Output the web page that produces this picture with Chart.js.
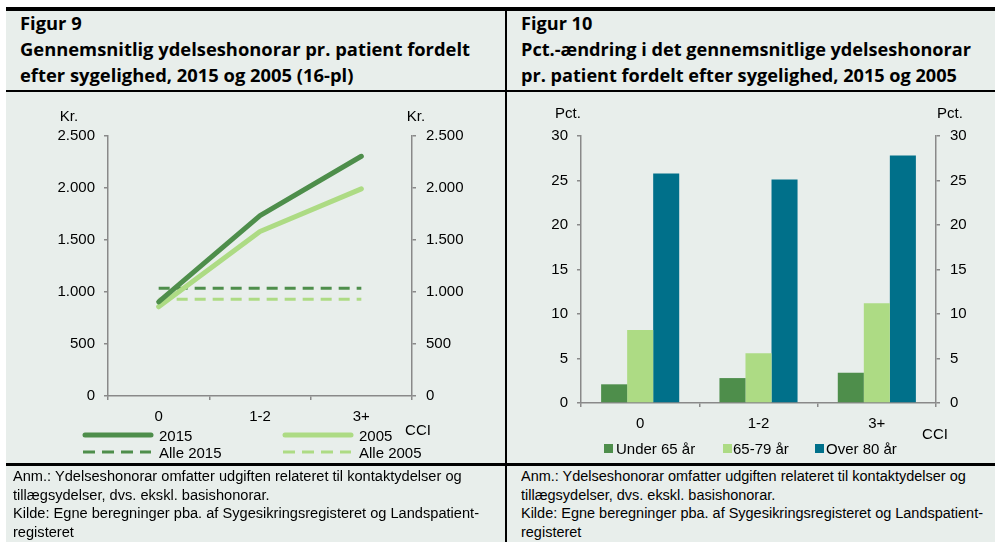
<!DOCTYPE html>
<html>
<head>
<meta charset="utf-8">
<script src="https://cdn.jsdelivr.net/npm/chart.js@4/dist/chart.umd.min.js"></script>
<style>
  html, body { margin:0; padding:0; background:#fff; }
  body { width:995px; height:542px; position:relative; overflow:hidden; font-family:"Liberation Sans", Arial, sans-serif; }
  .abs { position:absolute; }
  .bg { left:6px; top:7px; width:989px; height:535px; background:#e8eeeb; }
  .bar { background:#000; }
  .title { font-family: "Open Sans", Lato, sans-serif; font-weight:700; color:#000; line-height:26px; white-space:nowrap; transform-origin:left top; }
  .foot { font-family:"Liberation Sans", Arial, sans-serif; color:#000; font-size:14px; line-height:18.6px; white-space:nowrap; transform-origin:left top; }
  .lbl { font-size:15px; color:#000; transform:translate(-50%,-50%); white-space:nowrap; }
  .leg { font-size:15px; color:#000; white-space:nowrap; line-height:17px; }
  canvas { position:absolute; }
</style>
</head>
<body>
<div class="abs bg"></div>
<div class="abs bar" style="left:6px;top:7px;width:989px;height:4px;"></div>
<div class="abs bar" style="left:6px;top:90px;width:989px;height:2px;"></div>
<div class="abs bar" style="left:6px;top:463px;width:989px;height:3px;"></div>
<div class="abs bar" style="left:505px;top:7px;width:2px;height:535px;"></div>

<div class="abs title" data-w="450" style="left:20px;top:11px;font-size:17px;">Figur 9<br>Gennemsnitlig ydelseshonorar pr. patient fordelt<br>efter sygelighed, 2015 og 2005 (16-pl)</div>
<div class="abs title" data-w="450" style="left:521px;top:11px;font-size:17px;">Figur 10<br>Pct.-ændring i det gennemsnitlige ydelseshonorar<br>pr. patient fordelt efter sygelighed, 2015 og 2005</div>

<canvas id="c1" width="499" height="369" style="left:6px;top:93px;"></canvas>
<canvas id="c2" width="487" height="369" style="left:508px;top:93px;"></canvas>

<div class="abs lbl" style="left:69px;top:115px;">Kr.</div>
<div class="abs lbl" style="left:416px;top:115px;">Kr.</div>
<div class="abs lbl" style="left:418px;top:429px;">CCI</div>
<div class="abs lbl" style="left:568px;top:112px;">Pct.</div>
<div class="abs lbl" style="left:950px;top:112px;">Pct.</div>
<div class="abs lbl" style="left:935px;top:433px;">CCI</div>

<!-- left legend -->
<svg class="abs" style="left:0;top:420px;" width="505" height="45">
  <line x1="85" y1="15" x2="151" y2="15" stroke="#4e8e4b" stroke-width="5" stroke-linecap="round"/>
  <line x1="285" y1="15" x2="351" y2="15" stroke="#addb84" stroke-width="5" stroke-linecap="round"/>
  <line x1="83" y1="32" x2="151" y2="32" stroke="#4e8e4b" stroke-width="3" stroke-dasharray="12,7"/>
  <line x1="283" y1="32" x2="351" y2="32" stroke="#addb84" stroke-width="3" stroke-dasharray="12,7"/>
</svg>
<div class="abs leg" style="left:159px;top:427px;">2015</div>
<div class="abs leg" style="left:359px;top:427px;">2005</div>
<div class="abs leg" style="left:159px;top:444px;">Alle 2015</div>
<div class="abs leg" style="left:359px;top:444px;">Alle 2005</div>

<!-- right legend -->
<div class="abs" style="left:604px;top:444px;width:9px;height:9px;background:#4e8e4b;"></div>
<div class="abs leg" style="left:616px;top:440px;">Under 65 år</div>
<div class="abs" style="left:723px;top:444px;width:9px;height:9px;background:#addb84;"></div>
<div class="abs leg" style="left:733px;top:440px;">65-79 år</div>
<div class="abs" style="left:815px;top:444px;width:9px;height:9px;background:#00708a;"></div>
<div class="abs leg" style="left:826px;top:440px;">Over 80 år</div>

<div class="abs foot" data-w="466" style="left:13px;top:467px;">Anm.: Ydelseshonorar omfatter udgiften relateret til kontaktydelser og<br>tillægsydelser, dvs. ekskl. basishonorar.<br>Kilde: Egne beregninger pba. af Sygesikringsregisteret og Landspatient-<br>registeret</div>
<div class="abs foot" data-w="462" style="left:521px;top:467px;">Anm.: Ydelseshonorar omfatter udgiften relateret til kontaktydelser og<br>tillægsydelser, dvs. ekskl. basishonorar.<br>Kilde: Egne beregninger pba. af Sygesikringsregisteret og Landspatient-<br>registeret</div>

<script>
// ---- data ----
const cciLabels = ['0', '1-2', '3+'];
const honorar2015 = [905, 1735, 2305];
const honorar2005 = [858, 1582, 1992];
const alle2015 = [1035, 1035, 1035];
const alle2005 = [930, 930, 930];
const krTicks = [0, 500, 1000, 1500, 2000, 2500];

const ageLabels = ['Under 65 år', '65-79 år', 'Over 80 år'];
const under65 = [2.1, 2.8, 3.4];
const age6579 = [8.2, 5.6, 11.2];
const over80 = [25.8, 25.1, 27.8];
const pctTicks = [0, 5, 10, 15, 20, 25, 30];

// fit text blocks horizontally to their measured reference widths
document.querySelectorAll('[data-w]').forEach(el => {
  const w = el.getBoundingClientRect().width;
  el.style.transform = 'scaleX(' + (parseFloat(el.dataset.w) / w) + ')';
});

// ---- styles ----
const DARK = '#4e8e4b', LIGHT = '#addb84', TEAL = '#00708a', AXIS = '#898989';
const FONT = { family: '"Liberation Sans", Arial, sans-serif', size: 15 };
Chart.defaults.font = FONT;
Chart.defaults.color = '#000';

function fmtKr(v) { return v.toString().replace(/\B(?=(\d{3})+(?!\d))/g, '.'); }

function yAxis(pos, width, max, tickVals, fmt, pad) {
  return {
    position: pos, min: 0, max: max,
    afterFit: s => { s.width = width; },
    afterBuildTicks: s => { s.ticks = tickVals.map(v => ({ value: v })); },
    ticks: { padding: pad, callback: fmt, font: FONT, color: '#000' },
    grid: { drawOnChartArea: false, drawTicks: true, tickLength: 4, color: AXIS, lineWidth: 1.5 },
    border: { display: true, color: AXIS, width: 1.5 }
  };
}
function xAxis(height) {
  return {
    type: 'category', offset: true,
    afterFit: s => { s.height = height; },
    ticks: { padding: 8, font: FONT, color: '#000', maxRotation: 0 },
    grid: { offset: true, drawOnChartArea: false, drawTicks: true, tickLength: 4, color: AXIS, lineWidth: 1.5 },
    border: { display: true, color: AXIS, width: 1.5 }
  };
}

new Chart(document.getElementById('c1'), {
  type: 'line',
  data: {
    labels: cciLabels,
    datasets: [
      { label: '2015', data: honorar2015, borderColor: DARK, borderWidth: 5, borderCapStyle: 'round', borderJoinStyle: 'round', pointRadius: 0, tension: 0, order: 1 },
      { label: '2005', data: honorar2005, borderColor: LIGHT, borderWidth: 5, borderCapStyle: 'round', borderJoinStyle: 'round', pointRadius: 0, tension: 0, order: 2 },
      { label: 'Alle 2015', data: alle2015, borderColor: DARK, borderWidth: 3, borderDash: [11, 7], pointRadius: 0, order: 3 },
      { label: 'Alle 2005', data: alle2005, borderColor: LIGHT, borderWidth: 3, borderDash: [11, 7], pointRadius: 0, order: 4 }
    ]
  },
  options: {
    responsive: false, animation: false, devicePixelRatio: 1,
    layout: { padding: { left: 0, right: 0, top: 43, bottom: 0 } },
    plugins: { legend: { display: false }, tooltip: { enabled: false } },
    scales: {
      x: xAxis(66),
      y: yAxis('left', 102, 2500, krTicks, v => fmtKr(v), 9),
      y2: yAxis('right', 93, 2500, krTicks, v => fmtKr(v), 10)
    }
  }
});

new Chart(document.getElementById('c2'), {
  type: 'bar',
  data: {
    labels: cciLabels,
    datasets: [
      { label: ageLabels[0], data: under65, backgroundColor: DARK },
      { label: ageLabels[1], data: age6579, backgroundColor: LIGHT },
      { label: ageLabels[2], data: over80, backgroundColor: TEAL }
    ]
  },
  options: {
    responsive: false, animation: false, devicePixelRatio: 1,
    layout: { padding: { left: 0, right: 0, top: 43, bottom: 0 } },
    datasets: { bar: { categoryPercentage: 0.66, barPercentage: 1 } },
    plugins: { legend: { display: false }, tooltip: { enabled: false } },
    scales: {
      x: xAxis(59),
      y: yAxis('left', 73, 30, pctTicks, v => v, 9),
      y2: yAxis('right', 59, 30, pctTicks, v => v, 10)
    }
  }
});
</script>
</body>
</html>
